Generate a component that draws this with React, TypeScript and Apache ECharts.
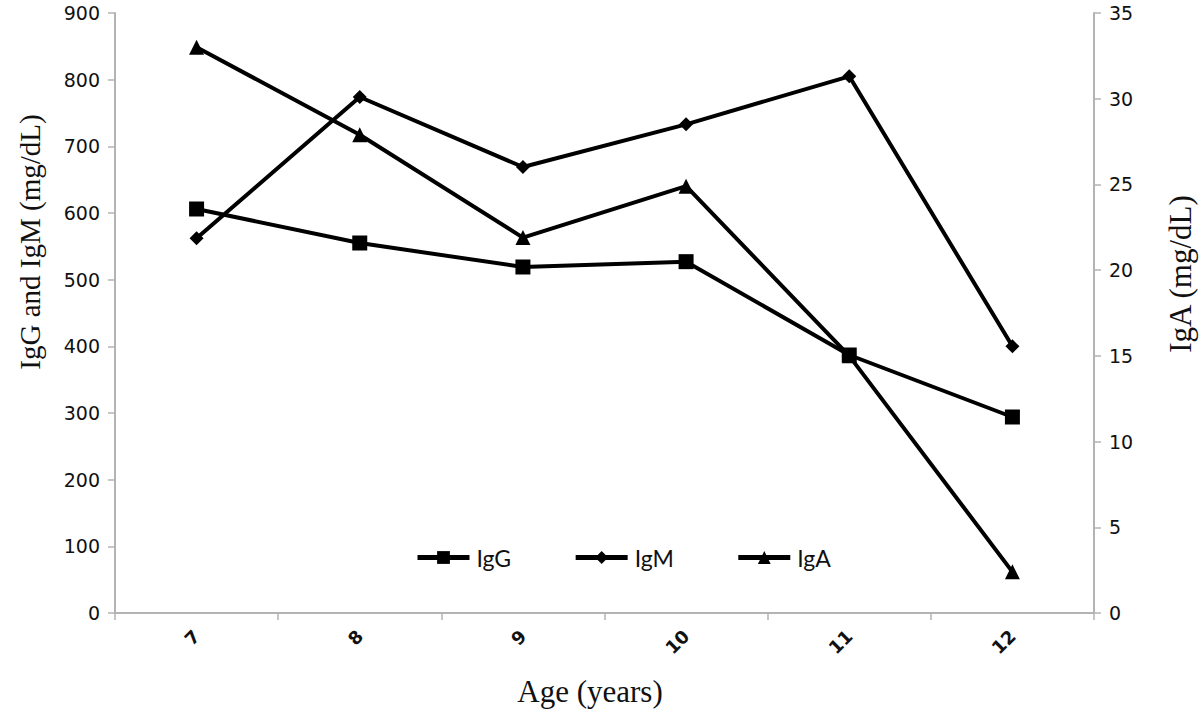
import React, { useEffect, useRef } from "react";
import * as echarts from "echarts";

const ages = ["7", "8", "9", "10", "11", "12"];
const igG = [606, 555, 519, 527, 387, 294];
const igM = [562, 774, 669, 733, 805, 400];
const igA = [33.0, 27.9, 21.9, 24.9, 15.0, 2.4];
const leftTicks = { min: 0, max: 900, interval: 100 };
const rightTicks = { min: 0, max: 35, interval: 5 };

export default function App() {
  const ref = useRef<HTMLDivElement>(null);
  useEffect(() => {
    const chart = echarts.init(ref.current!, null, { renderer: "svg" });
    const axisGray = "#b3b3b3";
    const tickFont = { fontFamily: "DejaVu Sans", fontSize: 19, color: "#111" };
    const titleFont = "Liberation Serif";
    chart.setOption({
      animation: false,
      backgroundColor: "#fff",
      grid: { left: 115, right: 106, top: 13, bottom: 97 },
      legend: {
        left: 410,
        top: 541,
        itemWidth: 52,
        itemHeight: 16,
        itemGap: 62,
        lineStyle: { width: 5, color: "#000" },
        textStyle: { fontFamily: "Lato", fontSize: 23, color: "#111", padding: [0, 0, 0, 2] },
        data: ["IgG", "IgM", "IgA"],
      },
      xAxis: {
        type: "category",
        data: ages,
        boundaryGap: true,
        axisLine: { lineStyle: { color: axisGray, width: 2 } },
        axisTick: { show: true, length: 7, lineStyle: { color: axisGray, width: 1.5 } },
        axisLabel: { ...tickFont, fontSize: 18, fontWeight: "bold", rotate: 45, margin: 20 },
        splitLine: { show: false },
      },
      yAxis: [
        {
          type: "value",
          ...leftTicks,
          position: "left",
          axisLine: { show: true, lineStyle: { color: axisGray, width: 2 } },
          axisTick: { show: true, length: 7, lineStyle: { color: axisGray, width: 1.5 } },
          axisLabel: { ...tickFont, margin: 15 },
          splitLine: { show: false },
        },
        {
          type: "value",
          ...rightTicks,
          position: "right",
          axisLine: { show: true, lineStyle: { color: axisGray, width: 2 } },
          axisTick: { show: true, length: 7, lineStyle: { color: axisGray, width: 1.5 } },
          axisLabel: { ...tickFont, margin: 15 },
          splitLine: { show: false },
        },
      ],
      graphic: [
        {
          type: "text",
          x: 30,
          y: 242,
          rotation: Math.PI / 2,
          style: {
            text: "IgG and IgM (mg/dL)",
            fontFamily: titleFont,
            fontSize: 29,
            fill: "#111",
            align: "center",
            verticalAlign: "middle",
          },
        },
        {
          type: "text",
          x: 1180,
          y: 274,
          rotation: Math.PI / 2,
          style: {
            text: "IgA (mg/dL)",
            fontFamily: titleFont,
            fontSize: 31,
            fill: "#111",
            align: "center",
            verticalAlign: "middle",
          },
        },
        {
          type: "text",
          x: 590,
          y: 691,
          style: {
            text: "Age (years)",
            fontFamily: titleFont,
            fontSize: 31,
            fill: "#111",
            align: "center",
            verticalAlign: "middle",
          },
        },
      ],
      series: [
        {
          name: "IgG",
          type: "line",
          data: igG,
          yAxisIndex: 0,
          symbol: "rect",
          symbolSize: 15,
          itemStyle: { color: "#000" },
          lineStyle: { color: "#000", width: 4 },
        },
        {
          name: "IgM",
          type: "line",
          data: igM,
          yAxisIndex: 0,
          symbol: "diamond",
          symbolSize: 14,
          itemStyle: { color: "#000" },
          lineStyle: { color: "#000", width: 4 },
        },
        {
          name: "IgA",
          type: "line",
          data: igA,
          yAxisIndex: 1,
          symbol: "triangle",
          symbolSize: 15,
          itemStyle: { color: "#000" },
          lineStyle: { color: "#000", width: 4 },
        },
      ],
    });
    return () => chart.dispose();
  }, []);
  return (
    <div
      ref={ref}
      style={{ position: "fixed", left: 0, top: 0, width: 1200, height: 710, background: "#fff" }}
    />
  );
}
